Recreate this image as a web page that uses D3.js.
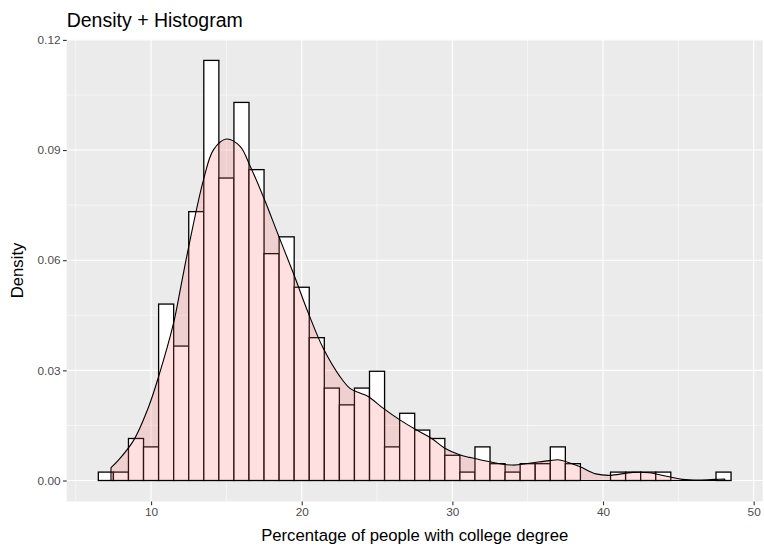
<!DOCTYPE html>
<html>
<head>
<meta charset="utf-8">
<script src="https://cdn.jsdelivr.net/npm/d3@7/dist/d3.min.js"></script>
<style>
  body { margin: 0; background: #ffffff; }
  svg { display: block; }
  text { font-family: "Liberation Sans", Arial, Helvetica, sans-serif; }
</style>
</head>
<body>
<svg id="chart" width="764" height="548"></svg>
<script>
// Histogram bins (binwidth = 1), centres and counts
const binCenters = [7, 8, 9, 10, 11, 12, 13, 14, 15, 16, 17, 18, 19, 20, 21, 22, 23, 24, 25, 26, 27,
                    28, 29, 30, 31, 32, 33, 34, 35, 36, 37, 38, 39, 40, 41, 42, 43, 44, 45, 46, 47, 48];
const binCounts  = [1, 1, 5, 4, 21, 16, 32, 50, 36, 45, 37, 27, 29, 23, 17, 11, 9, 11, 13, 4, 8,
                    6, 5, 3, 1, 4, 2, 1, 2, 2, 4, 2, 0, 0, 1, 1, 1, 1, 0, 0, 0, 1];
const binWidth = 1;

// Kernel density estimate of the same variable
const densityX = [7.34, 7.85, 8.85, 9.84, 10.5, 11.5, 12.0, 12.49, 13.48, 14.15, 15.0, 15.91, 16.58,
                  17.46, 18.45, 19.44, 20.44, 21.43, 22.54, 23.2, 23.86, 24.41, 25.4, 26.51, 27.6,
                  28.6, 29.5, 30.48, 31.15, 32.47, 34.0, 35.12, 36.44, 37.1, 38.43, 39.53, 40.4,
                  41.96, 43.07, 44.4, 45.27, 46.4, 47.5, 48.08];
const densityY = [0.0035, 0.0056, 0.0110, 0.0201, 0.0283, 0.0430, 0.0533, 0.0635, 0.0819, 0.0901,
                  0.0930, 0.0910, 0.0856, 0.0772, 0.0668, 0.0565, 0.0456, 0.0360, 0.0283, 0.0251,
                  0.0238, 0.0229, 0.0197, 0.0165, 0.0138, 0.0115, 0.0088, 0.0070, 0.0063, 0.0051,
                  0.0042, 0.0047, 0.0054, 0.0056, 0.0038, 0.0018, 0.0014, 0.0022, 0.0021, 0.0010,
                  0.0003, 0.0001, 0.0003, 0.0004];

// Axis breaks
const xTicks = [10, 20, 30, 40, 50];
const xMinor = [5, 15, 25, 35, 45];
const yTicks = [0.00, 0.03, 0.06, 0.09, 0.12];
const yMinor = [0.015, 0.045, 0.075, 0.105];

const titleText = "Density + Histogram";
const xLabel = "Percentage of people with college degree";
const yLabel = "Density";

const panel = { left: 66.7, top: 39.4, right: 762.7, bottom: 501.5 };

const svg = d3.select("#chart");

const total = d3.sum(binCounts);
const bins = binCenters.map((c, i) => ({
  x0: c - binWidth / 2,
  x1: c + binWidth / 2,
  density: binCounts[i] / (total * binWidth)
}));
const density = densityX.map((x, i) => ({ x, y: densityY[i] }));

// Continuous scales with a 5% expansion on each side
const xMin = d3.min(bins, d => d.x0), xMax = d3.max(bins, d => d.x1);
const xPad = (xMax - xMin) * 0.05;
const yMax = d3.max([d3.max(bins, d => d.density), d3.max(densityY)]);
const yPad = yMax * 0.05;

const x = d3.scaleLinear().domain([xMin - xPad, xMax + xPad]).range([panel.left, panel.right]);
const y = d3.scaleLinear().domain([-yPad, yMax + yPad]).range([panel.bottom, panel.top]);

// Panel background and grid
svg.append("rect")
  .attr("x", panel.left).attr("y", panel.top)
  .attr("width", panel.right - panel.left).attr("height", panel.bottom - panel.top)
  .attr("fill", "#EBEBEB");

const grid = svg.append("g");
grid.selectAll("line.ym").data(yMinor).join("line")
  .attr("x1", panel.left).attr("x2", panel.right)
  .attr("y1", d => y(d)).attr("y2", d => y(d))
  .attr("stroke", "#ffffff").attr("stroke-width", 0.55);
grid.selectAll("line.xm").data(xMinor).join("line")
  .attr("y1", panel.top).attr("y2", panel.bottom)
  .attr("x1", d => x(d)).attr("x2", d => x(d))
  .attr("stroke", "#ffffff").attr("stroke-width", 0.55);
grid.selectAll("line.yM").data(yTicks).join("line")
  .attr("x1", panel.left).attr("x2", panel.right)
  .attr("y1", d => y(d)).attr("y2", d => y(d))
  .attr("stroke", "#ffffff").attr("stroke-width", 1.1);
grid.selectAll("line.xM").data(xTicks).join("line")
  .attr("y1", panel.top).attr("y2", panel.bottom)
  .attr("x1", d => x(d)).attr("x2", d => x(d))
  .attr("stroke", "#ffffff").attr("stroke-width", 1.1);

// Histogram bars
svg.append("g").selectAll("rect").data(bins).join("rect")
  .attr("x", d => x(d.x0))
  .attr("width", d => x(d.x1) - x(d.x0))
  .attr("y", d => y(d.density))
  .attr("height", d => y(0) - y(d.density))
  .attr("fill", "#ffffff")
  .attr("stroke", "#000000")
  .attr("stroke-width", 1.3);

// Density area, translucent fill with full outline
const area = d3.area()
  .x(d => x(d.x))
  .y0(y(0))
  .y1(d => y(d.y))
  .curve(d3.curveCatmullRom.alpha(0.5));

svg.append("path")
  .datum(density)
  .attr("d", area)
  .attr("fill", "#FF6666")
  .attr("fill-opacity", 0.2)
  .attr("stroke", "#000000")
  .attr("stroke-width", 1.1)
  .attr("stroke-linejoin", "round");

// Axes
const xAxis = svg.append("g")
  .attr("transform", `translate(0,${panel.bottom})`)
  .call(d3.axisBottom(x).tickValues(xTicks).tickSize(3.7).tickPadding(2.5).tickFormat(d3.format("d")));
const yAxis = svg.append("g")
  .attr("transform", `translate(${panel.left},0)`)
  .call(d3.axisLeft(y).tickValues(yTicks).tickSize(3.7).tickPadding(2.5).tickFormat(d3.format(".2f")));

[xAxis, yAxis].forEach(g => {
  g.select(".domain").remove();
  g.selectAll(".tick line").attr("stroke", "#333333").attr("stroke-width", 1.1);
  g.selectAll(".tick text")
    .attr("fill", "#4D4D4D")
    .style("font-size", "11.8px")
    .style("font-family", "'Liberation Sans', Arial, sans-serif");
});

// Titles
svg.append("text")
  .attr("x", panel.left).attr("y", 27)
  .attr("fill", "#000000")
  .style("font-size", "19.5px")
  .text(titleText);

svg.append("text")
  .attr("x", (panel.left + panel.right) / 2).attr("y", 541)
  .attr("text-anchor", "middle")
  .attr("fill", "#000000")
  .style("font-size", "16.7px")
  .text(xLabel);

svg.append("text")
  .attr("transform", `translate(23,${(panel.top + panel.bottom) / 2}) rotate(-90)`)
  .attr("text-anchor", "middle")
  .attr("fill", "#000000")
  .style("font-size", "16.7px")
  .text(yLabel);
</script>
</body>
</html>
